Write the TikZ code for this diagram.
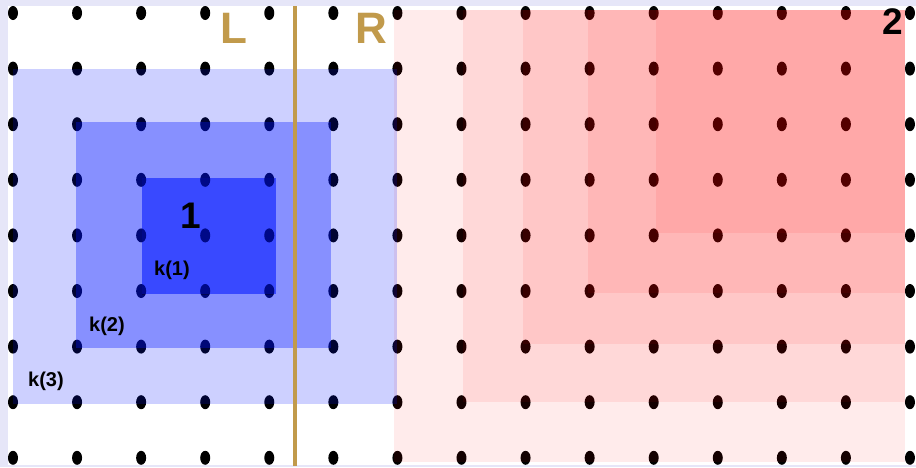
\documentclass[tikz,border=0pt]{standalone}
\usepackage{fontspec}
\setmainfont{Liberation Sans}
\definecolor{framelav}{RGB}{230,230,248}
\definecolor{splittan}{RGB}{193,154,75}
\definecolor{kblue}{RGB}{0,20,255}
\definecolor{hotred}{RGB}{255,0,0}
\usetikzlibrary{positioning}

\tikzset{
  gridpt/.style={fill=black},
  klayer/.style={fill=kblue, fill opacity=#1},
  hlayer/.style={fill=hotred, fill opacity=0.08},
  sidelabel/.style={text=splittan, inner sep=0pt, font=\fontsize{44}{44}\selectfont\bfseries},
  setlabel/.style={inner sep=0pt, font=\fontsize{37}{37}\selectfont\bfseries},
  klabel/.style={inner sep=0pt, font=\fontsize{20}{20}\selectfont\bfseries}
}

\begin{document}
\begin{tikzpicture}[x=1pt, y=-1pt]
  \useasboundingbox (0,0) rectangle (916,467);
  % frame
  \fill[framelav] (0,0) rectangle (916,467);
  \fill[white] (8,6) rectangle (916,465);

  % the grid of points
  \foreach \i in {0,...,14}
    \foreach \j in {0,...,8}
      \fill[gridpt] (13+64.07*\i, 13+55.6*\j) ellipse [x radius=5pt, y radius=7pt];

  % region 2, growing from the top right corner
  \fill[hlayer] (394,10) rectangle (905,462);
  \fill[hlayer] (463,10) rectangle (905,402);
  \fill[hlayer] (523,10) rectangle (905,344);
  \fill[hlayer] (588,10) rectangle (905,293);
  \fill[hlayer] (656,10) rectangle (905,233);

  % region 1 and its neighbourhoods k(1), k(2), k(3)
  \fill[klayer=0.196] (13,69) rectangle (397,404);
  \fill[klayer=0.337] (76,122) rectangle (331,348);
  \fill[klayer=0.574] (142,178) rectangle (276,294);
  % darker points inside k(1)
  \begin{scope}
    \clip (142,178) rectangle (276,294);
    \foreach \i in {2,3,4}
      \foreach \j in {3,4,5}
        \fill[gridpt, fill opacity=0.3] (13+64.07*\i, 13+55.6*\j) ellipse [x radius=5pt, y radius=7pt];
  \end{scope}

  % the split
  \draw[splittan, line width=4pt] (295,6) -- (295,466);

  \node[sidelabel] (left) at (234,28) {L};
  \node[sidelabel] (right) at (371,28) {R};
  \node[setlabel] (one) at (191,216) {1};
  \node[setlabel] (two) at (893,22) {2};
  \node[klabel] (k1) at (172,270) {k(1)};
  \node[klabel] (k2) at (107,326) {k(2)};
  \node[klabel] (k3) at (46,381) {k(3)};
\end{tikzpicture}
\end{document}
